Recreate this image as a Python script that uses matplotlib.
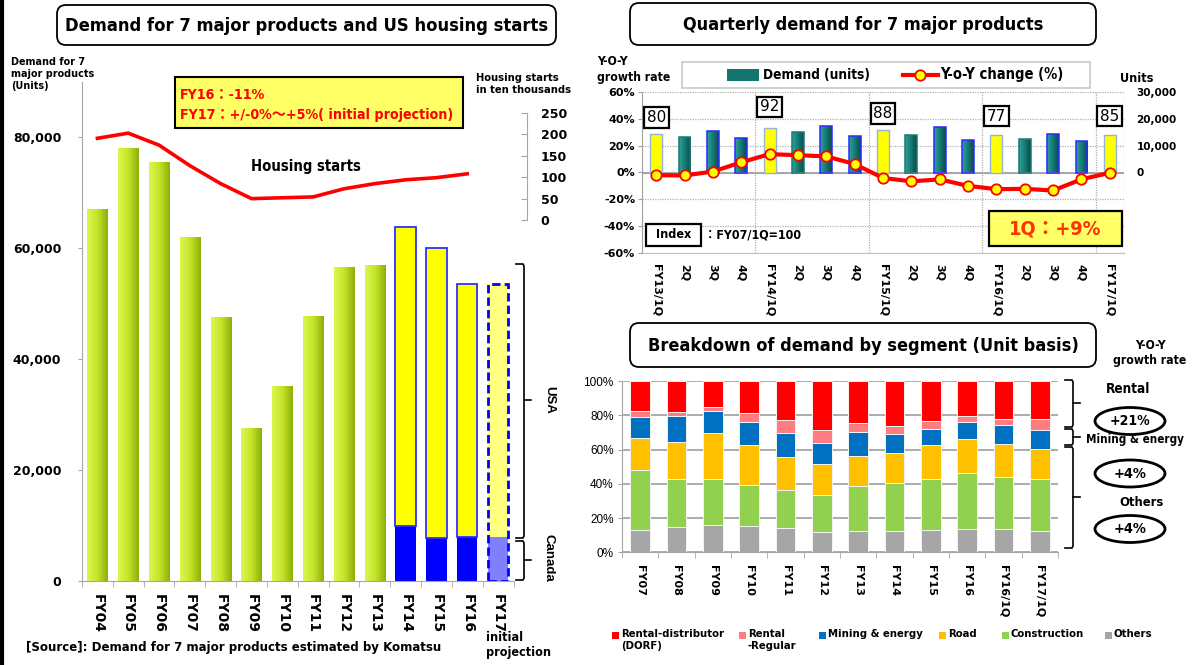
import numpy as np
import matplotlib
matplotlib.use('Agg')
import matplotlib.pyplot as plt
from matplotlib import font_manager
from matplotlib.patches import FancyBboxPatch, Rectangle, Ellipse
from matplotlib.colors import LinearSegmentedColormap
from matplotlib.ticker import FuncFormatter

# ---------------- data ----------------
fy_years = ['FY04', 'FY05', 'FY06', 'FY07', 'FY08', 'FY09', 'FY10', 'FY11',
            'FY12', 'FY13', 'FY14', 'FY15', 'FY16', 'FY17']
demand_units = [67000, 78000, 75500, 62000, 47500, 27500, 35200, 47800,
                56500, 57000, 63700, 60000, 53500, 53500]
split_years = ['FY14', 'FY15', 'FY16', 'FY17']
canada_units = [10000, 7800, 8000, 8000]
housing_starts = [191, 203, 175, 127, 85, 50, 52, 54, 73, 85, 94, 99, 108]  # FY04..FY16

quarters = ['FY13/1Q', '2Q', '3Q', '4Q', 'FY14/1Q', '2Q', '3Q', '4Q',
            'FY15/1Q', '2Q', '3Q', '4Q', 'FY16/1Q', '2Q', '3Q', '4Q', 'FY17/1Q']
quarter_units = [14400, 13300, 15500, 12900, 16500, 15100, 17500, 13600,
                 15800, 14100, 16800, 12200, 14000, 12400, 14400, 11600, 14000]
quarter_yoy = [-2.0, -2.2, 0.7, 7.6, 13.7, 12.9, 12.0, 6.3,
               -4.1, -6.6, -5.1, -10.0, -12.4, -12.2, -13.4, -5.1, -0.2]
index_values = [80, 92, 88, 77, 85]          # at each FYxx/1Q

seg_periods = ['FY07', 'FY08', 'FY09', 'FY10', 'FY11', 'FY12', 'FY13',
               'FY14', 'FY15', 'FY16', 'FY16/1Q', 'FY17/1Q']
seg_others = [12.8, 14.6, 15.8, 15.4, 14.2, 11.7, 12.6, 12.5, 13.0, 13.8, 13.8, 12.5]
seg_construction = [35.1, 28.0, 27.0, 23.9, 22.4, 21.8, 25.9, 28.0, 29.6, 32.7, 30.4, 30.1]
seg_road = [19.0, 21.6, 27.0, 23.3, 19.0, 17.9, 17.9, 17.3, 20.2, 19.5, 19.0, 17.9]
seg_mining = [12.3, 15.4, 12.9, 13.5, 14.2, 12.4, 13.8, 11.3, 9.4, 10.1, 11.1, 10.9]
seg_rental_regular = [3.5, 2.3, 2.3, 5.2, 7.2, 7.6, 5.3, 4.4, 4.3, 3.5, 3.7, 6.2]
seg_dorf = [17.3, 18.1, 15.0, 18.7, 23.0, 28.6, 24.5, 26.5, 23.5, 20.4, 22.0, 22.4]
seg_names = ['Others', 'Construction', 'Road', 'Mining & energy',
             'Rental\n-Regular', 'Rental-distributor\n(DORF)']
growth_groups = ['Rental', 'Mining & energy', 'Others']
growth_labels = ['+21%', '+4%', '+4%']

# ---------------- setup ----------------
W, H = 1194, 665
fig = plt.figure(figsize=(W / 100, H / 100), dpi=100)
fig.patch.set_facecolor('white')

flist = font_manager.fontManager.ttflist
names = {f.name for f in flist}
STRETCH = 'normal'
if 'Liberation Sans Narrow' in names:
    NAR = 'Liberation Sans Narrow'
elif any(f.name == 'DejaVu Sans' and f.stretch in ('condensed', 'semi-condensed') for f in flist):
    NAR = 'DejaVu Sans'
    STRETCH = 'condensed'
else:
    NAR = 'Liberation Sans'
NARF = [NAR, 'Noto Sans CJK JP', 'DejaVu Sans']
TF = 'DejaVu Sans'
ARI = 'Liberation Sans'
GRAY = '#a6a6a6'


def add_ax(x0, y0, x1, y1):
    return fig.add_axes([x0 / W, 1 - y1 / H, (x1 - x0) / W, (y1 - y0) / H])


def grad_bars(ax, bars, cmap):
    g = np.linspace(0, 1, 128).reshape(1, -1)
    for b in bars:
        x0, y0, w, h = b.get_x(), b.get_y(), b.get_width(), b.get_height()
        im = ax.imshow(g, extent=[x0, x0 + w, y0, y0 + h], aspect='auto', cmap=cmap,
                       interpolation='bilinear', zorder=b.get_zorder() - 0.01)
        im.set_clip_path(b)
        b.set_facecolor('none')


def bold_ticks(labels, family):
    for t in labels:
        t.set_fontweight('bold')
        t.set_family(family)


# ================= Left chart =================
ax = add_ax(82, 81.5, 513.5, 581)
axh = ax.twinx()
x = np.arange(len(fy_years))
n_green = len(fy_years) - len(split_years)
green_cmap = LinearSegmentedColormap.from_list('g', ['#dcf74e', '#c4e42a', '#8cae08'])
gb = ax.bar(x[:n_green], demand_units[:n_green], width=0.66, color='#b5d51e', lw=0, zorder=2)
grad_bars(ax, gb, green_cmap)
xs = x[n_green:]
tot = np.array(demand_units[n_green:])
can = np.array(canada_units)
usa = tot - can
ax.bar(xs[:-1], can[:-1], width=0.66, color='#0000ff', lw=0, zorder=2)
ax.bar(xs[:-1], usa[:-1], bottom=can[:-1], width=0.66, color='#ffff00',
       edgecolor='#2f2fff', lw=1.3, zorder=2)
ax.bar(xs[-1:], can[-1:], width=0.66, color='#8080ff', lw=0, zorder=2)
ax.bar(xs[-1:], usa[-1:], bottom=can[-1:], width=0.66, color='#ffff80', lw=0, zorder=2)
ax.bar(xs[-1:], tot[-1:], width=0.66, fill=False, edgecolor='#0000ff', lw=2,
       ls=(0, (3, 1.5)), zorder=3)
ax.set_xlim(-0.5, len(fy_years) - 0.5)
ax.set_ylim(0, 90000)
for s in ['top', 'right']:
    ax.spines[s].set_visible(False)
for s in ['left', 'bottom']:
    ax.spines[s].set_color(GRAY)
ax.yaxis.tick_left()
ax.set_yticks(range(0, 80001, 20000))
ax.yaxis.set_major_formatter(FuncFormatter(lambda v, p: f'{int(v):,}'))
ax.tick_params(axis='y', length=3, color=GRAY, pad=12, labelsize=9)
bold_ticks(ax.get_yticklabels(), TF)
ax.set_xticks(x)
ax.set_xticklabels(fy_years, rotation=270)
ax.tick_params(axis='x', which='major', length=0, pad=9, labelsize=10)
bold_ticks(ax.get_xticklabels(), TF)
ax.set_xticks(np.arange(len(fy_years) + 1) - 0.5, minor=True)
ax.tick_params(axis='x', which='minor', length=4, color=GRAY)

axh.plot(x[:len(housing_starts)], housing_starts, color='#ff0000', lw=2.6, zorder=4)
axh.set_ylim(-843.5, 323.7)
for s in ['top', 'left', 'bottom']:
    axh.spines[s].set_visible(False)
axh.spines['right'].set_position(('outward', 9.7))
axh.spines['right'].set_bounds(0, 250)
axh.spines['right'].set_color(GRAY)
axh.yaxis.tick_right()
axh.set_yticks(range(0, 251, 50))
axh.tick_params(axis='y', direction='in', length=4, color=GRAY, pad=10, labelsize=9)
bold_ticks(axh.get_yticklabels(), TF)

# ================= Quarterly chart =================
ax3 = add_ax(642, 92, 1124, 253)
ax3t = ax3.twinx()
q = np.arange(len(quarters))
is_1q = np.array([lab.startswith('FY') for lab in quarters])
qunits = np.array(quarter_units)
teal_cmap = LinearSegmentedColormap.from_list('t', ['#2fa39b', '#167a74', '#0a4a47'])
edge_map = {'2Q': '#167a74', '3Q': '#2a2aff', '4Q': '#2a2aff'}
ax3.bar(q[is_1q], qunits[is_1q], width=0.42, color='#ffff00', edgecolor='#95b3d7', lw=1, zorder=2)
tb = ax3.bar(q[~is_1q], qunits[~is_1q], width=0.42, color='#137470',
             edgecolor=[edge_map[l] for l, f in zip(quarters, is_1q) if not f], lw=1.1, zorder=2)
grad_bars(ax3, tb, teal_cmap)
ax3.set_xlim(-0.5, len(quarters) - 0.5)
ax3.set_ylim(-30000, 30000)
ax3.yaxis.tick_right()
yt = list(range(-30000, 30001, 10000))
ax3.set_yticks(yt)
ax3.set_yticklabels([f'{v:,}' if v >= 0 else '' for v in yt])
ax3.tick_params(axis='y', length=0, pad=9, labelsize=7.5)
bold_ticks(ax3.get_yticklabels(), TF)
ax3.grid(axis='y', ls=(0, (1, 1)), color='#b0b0b0', lw=0.9)
ax3.set_axisbelow(True)
for xv in (q[is_1q] - 0.5)[1:]:
    ax3.axvline(xv, ls=(0, (1, 1)), color='#b0b0b0', lw=0.9, zorder=0.5)
ax3.axvline(len(quarters) - 0.5, ls=(0, (1, 1)), color='#b0b0b0', lw=0.9, zorder=0.5)
ax3.axhline(0, color='#a0a0a0', lw=1.3, zorder=1)
for s in ['top', 'right']:
    ax3.spines[s].set_visible(False)
ax3.spines['left'].set_color('#a0a0a0')
ax3.spines['bottom'].set_color('#c0c0c0')
ax3.set_xticks(q)
ax3.set_xticklabels(quarters, rotation=270)
ax3.tick_params(axis='x', length=0, pad=8, labelsize=8)
bold_ticks(ax3.get_xticklabels(), TF)

ax3t.yaxis.tick_left()
ax3t.plot(q, quarter_yoy, color='#ff0000', lw=3, marker='o', ms=7.5,
          mfc='#ffff00', mec='#ff0000', mew=1.3, zorder=5)
ax3t.set_ylim(-60, 60)
ax3t.set_yticks(range(-60, 61, 20))
ax3t.set_yticklabels([f'{v}%' for v in range(-60, 61, 20)])
ax3t.tick_params(axis='y', length=3, color='#a0a0a0', pad=2, labelsize=8)
bold_ticks(ax3t.get_yticklabels(), TF)
for s in ax3t.spines.values():
    s.set_visible(False)
index_label_y = [41, 49, 44, 42, 42]
for xi, v, yy in zip(q[is_1q], index_values, index_label_y):
    ax3t.text(xi, yy, str(v), ha='center', va='center', fontsize=11, family=TF, zorder=6,
              bbox=dict(boxstyle='square,pad=0.18', fc='white', ec='black', lw=1.6))

# ================= Segment chart =================
ax4 = add_ax(622, 381, 1058, 552.3)
p = np.arange(len(seg_periods))
segs = [seg_others, seg_construction, seg_road, seg_mining, seg_rental_regular, seg_dorf]
seg_colors = ['#a6a6a6', '#92d050', '#ffc000', '#0070c0', '#ff7c80', '#ff0000']
bottom = np.zeros(len(p))
for vals, col in zip(segs, seg_colors):
    ax4.bar(p, vals, bottom=bottom, width=0.55, color=col, edgecolor='#f4f4f4', lw=0.7, zorder=2)
    bottom += np.array(vals)
ax4.set_xlim(-0.5, len(p) - 0.5)
ax4.set_ylim(0, 100)
ax4.set_yticks(range(0, 101, 20))
ax4.set_yticklabels([f'{v}%' for v in range(0, 101, 20)])
ax4.tick_params(axis='y', length=3, color=GRAY, pad=3, labelsize=8.5)
for t in ax4.get_yticklabels():
    t.set_family(ARI)
ax4.grid(axis='y', color=GRAY, lw=1.3, zorder=0)
ax4.set_axisbelow(True)
for s in ['top', 'right']:
    ax4.spines[s].set_visible(False)
for s in ['left', 'bottom']:
    ax4.spines[s].set_color(GRAY)
ax4.set_xticks(p)
ax4.set_xticklabels(seg_periods, rotation=270)
ax4.tick_params(axis='x', which='major', length=0, pad=9, labelsize=8)
bold_ticks(ax4.get_xticklabels(), TF)
ax4.set_xticks(np.arange(len(p) + 1) - 0.5, minor=True)
ax4.tick_params(axis='x', which='minor', length=4, color=GRAY)

# ================= Overlay (annotations) =================
ov = fig.add_axes([0, 0, 1, 1], zorder=10)
ov.set_xlim(0, W)
ov.set_ylim(H, 0)
ov.axis('off')
to_fit = []
SLACK = 1.1   # the substitute font is wider than Arial Narrow: allow a little more width


def txt(xp, yp, s, size, ha='left', va='center', color='black', family=None, fw=None,
        slack=SLACK, follow=None, **kw):
    t = ov.text(xp, yp, s, ha=ha, va=va, fontsize=size, fontweight='bold', color=color,
                family=family or NAR, fontstretch=STRETCH, **kw)
    if fw:
        to_fit.append((t, fw * slack, follow or []))
    return t


def title_box(x0, y0, x1, y1, text, size, fw):
    ov.add_patch(FancyBboxPatch((x0, y0), x1 - x0, y1 - y0,
                                boxstyle='round,pad=0,rounding_size=9',
                                fc='white', ec='black', lw=1.3))
    txt((x0 + x1) / 2, (y0 + y1) / 2 + 1, text, size, ha='center', fw=fw, slack=1.0)


def brace(xc, y0, y1, tip, hook=8, tipl=7):
    ov.plot([xc - hook, xc - 1, xc, xc, xc - 1, xc - hook],
            [y0, y0, y0 + 2, y1 - 2, y1, y1], color='black', lw=1.2)
    ov.plot([xc, xc + tipl], [tip, tip], color='black', lw=1.2)


# left border
ov.plot([1.5, 1.5], [0, H], color='black', lw=3)

# --- left chart annotations
title_box(57, 5, 556, 45, 'Demand for 7 major products and US housing starts', 16, 486)
txt(11, 57, 'Demand for 7\nmajor products\n(Units)', 8.5, va='top', linespacing=1.25, fw=76)
txt(476, 73, 'Housing starts\nin ten thousands', 8.5, va='top', linespacing=1.25, fw=87)
ov.add_patch(Rectangle((175, 77), 288, 51, fc='#ffff66', ec='black', lw=1.5))
fy16_t = txt(180, 95, 'FY16：-11%', 12, color='#ff0000', family=NARF)
txt(180, 115, 'FY17：+/-0%～+5%( initial projection)', 12, color='#ff0000', family=NARF,
    fw=259, slack=1.05, follow=[fy16_t])
txt(306, 166, 'Housing starts', 12, ha='center', fw=99)
brace(524, 264, 538, 400)
brace(524, 541, 580, 560)
txt(549, 400, 'USA', 9.5, ha='center', rotation=270, family=ARI)
txt(549, 558, 'Canada', 9.5, ha='center', rotation=270, family=ARI)
txt(486, 631, 'initial\nprojection', 10, va='top', linespacing=1.2, fw=58)
txt(26, 648, '[Source]: Demand for 7 major products estimated by Komatsu', 11, fw=401, slack=1.04)

# --- quarterly chart annotations
title_box(630, 3, 1096, 45, 'Quarterly demand for 7 major products', 16, 360)
txt(597, 55, 'Y-O-Y\ngrowth rate', 9.5, va='top', linespacing=1.25, fw=66)
txt(1120, 78, 'Units', 10, fw=30)
ov.add_patch(Rectangle((682, 62), 408, 26, fc='white', ec='#c8c8c8', lw=1.2))
ov.add_patch(Rectangle((727, 69), 32, 12, fc='#137470', ec='none'))
txt(763, 75, 'Demand (units)', 11.5, fw=98)
ov.plot([903, 938], [75, 75], color='#ff0000', lw=3)
ov.plot([920], [75], marker='o', ms=7.5, mfc='#ffff00', mec='#ff0000', mew=1.3)
txt(940, 75, 'Y-o-Y change (%)', 11.5, fw=112)
ov.add_patch(Rectangle((646, 224), 55, 22, fc='white', ec='black', lw=1.6))
txt(673.5, 235, 'Index', 11, ha='center', fw=32)
txt(704, 235, '：FY07/1Q=100', 11, family=NARF, fw=88)
ov.add_patch(Rectangle((989, 211), 133, 35, fc='#ffff66', ec='black', lw=1.6))
txt(1055.5, 229, '1Q：+9%', 16, ha='center', color='#ff3300', family=NARF, fw=84)

# --- segment chart annotations
title_box(630, 323, 1096, 367, 'Breakdown of demand by segment (Unit basis)', 16, 430)
txt(1150, 353, 'Y-O-Y\ngrowth rate', 9.5, ha='center', linespacing=1.2, fw=66)
brace(1073, 380, 427, 403)
brace(1073, 429, 445, 437)
brace(1073, 447, 548, 497)
group_text_pos = [(1128, 389, 40), (1135, 439, 88), (1142, 503, 40)]
ellipse_y = [421, 473.5, 529]
for g, (gx, gy, gw) in zip(growth_groups, group_text_pos):
    txt(gx, gy, g, 10, ha='center', fw=gw)
for glab, ey in zip(growth_labels, ellipse_y):
    ov.add_patch(Ellipse((1130, ey), 70, 27, fc='white', ec='black', lw=2))
    txt(1130, ey, glab, 12, ha='center', fw=37 if len(glab) > 3 else 30)

legend_x = [612, 739, 819, 939, 1001.5, 1104.6]
leg_texts = []
for lx, name, col in zip(legend_x, seg_names[::-1], seg_colors[::-1]):
    ov.add_patch(Rectangle((lx, 632), 7, 7, fc=col, ec='none'))
    leg_texts.append(txt(lx + 9, 629, name, 9.5, va='top', linespacing=1.2))
lead = seg_names[::-1].index('Mining & energy')
to_fit.append((leg_texts[lead], 86 * SLACK, [t for i, t in enumerate(leg_texts) if i != lead]))

# fit text widths to the reference's (narrow font substitute)
renderer = fig.canvas.get_renderer()
for t, target, followers in to_fit:
    w = t.get_window_extent(renderer).width
    if w > 0:
        t.set_fontsize(t.get_fontsize() * target / w)
        for f in followers:
            f.set_fontsize(t.get_fontsize())

fig.savefig('out.png', dpi=100)
